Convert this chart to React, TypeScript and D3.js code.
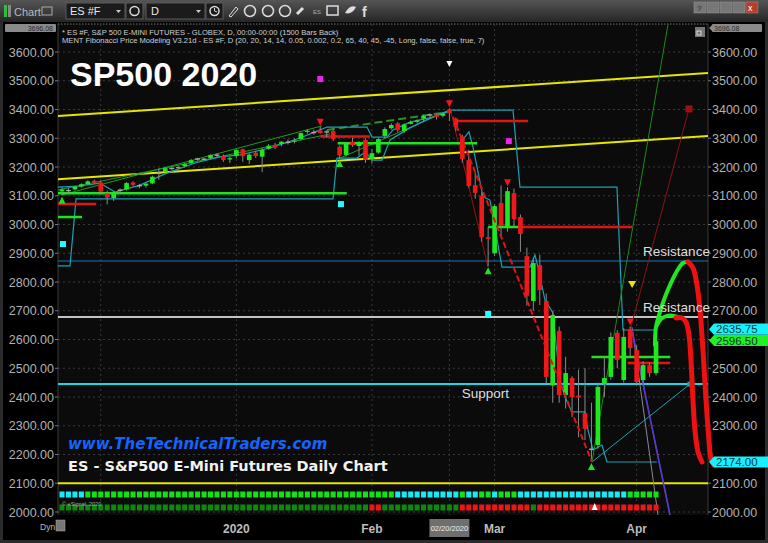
import React from "react";
import * as d3 from "d3";

// ---- data ----
const dates = [
  "2019-11-21","2019-11-22","2019-11-25","2019-11-26","2019-11-27","2019-11-29",
  "2019-12-02","2019-12-03","2019-12-04","2019-12-05","2019-12-06","2019-12-09","2019-12-10",
  "2019-12-11","2019-12-12","2019-12-13","2019-12-16","2019-12-17","2019-12-18","2019-12-19",
  "2019-12-20","2019-12-23","2019-12-24","2019-12-26","2019-12-27","2019-12-30","2019-12-31",
  "2020-01-02","2020-01-03","2020-01-06","2020-01-07","2020-01-08","2020-01-09","2020-01-10",
  "2020-01-13","2020-01-14","2020-01-15","2020-01-16","2020-01-17","2020-01-21","2020-01-22",
  "2020-01-23","2020-01-24","2020-01-27","2020-01-28","2020-01-29","2020-01-30","2020-01-31",
  "2020-02-03","2020-02-04","2020-02-05","2020-02-06","2020-02-07","2020-02-10","2020-02-11",
  "2020-02-12","2020-02-13","2020-02-14","2020-02-18","2020-02-19","2020-02-20","2020-02-21",
  "2020-02-24","2020-02-25","2020-02-26","2020-02-27","2020-02-28",
  "2020-03-02","2020-03-03","2020-03-04","2020-03-05","2020-03-06","2020-03-09","2020-03-10",
  "2020-03-11","2020-03-12","2020-03-13","2020-03-16","2020-03-17","2020-03-18","2020-03-19",
  "2020-03-20","2020-03-23","2020-03-24","2020-03-25","2020-03-26","2020-03-27","2020-03-30",
  "2020-03-31","2020-04-01","2020-04-02","2020-04-03","2020-04-06",
];

// open, high, low, close
const ohlc: number[][] = [
  [3115,3130,3100,3122],[3120,3128,3110,3118],[3122,3135,3118,3132],[3132,3143,3128,3140],
  [3140,3154,3137,3150],[3152,3156,3140,3145],[3146,3152,3108,3114],[3108,3118,3070,3094],
  [3092,3116,3082,3112],[3118,3126,3110,3119],[3122,3148,3118,3144],[3146,3150,3134,3138],
  [3134,3142,3126,3135],[3135,3146,3128,3142],[3143,3170,3140,3166],[3176,3195,3155,3178],
  [3183,3200,3180,3196],[3196,3202,3190,3195],[3196,3204,3192,3200],[3203,3214,3198,3210],
  [3213,3228,3210,3224],[3226,3232,3222,3228],[3228,3231,3224,3227],[3231,3244,3228,3242],
  [3242,3248,3234,3241],[3238,3243,3218,3224],[3226,3236,3214,3231],[3238,3262,3230,3259],
  [3262,3264,3218,3238],[3224,3248,3210,3243],[3250,3256,3232,3238],[3236,3267,3182,3259],
  [3264,3280,3260,3274],[3277,3284,3262,3268],[3280,3290,3272,3288],[3289,3296,3278,3286],
  [3288,3300,3282,3292],[3297,3320,3292,3318],[3322,3332,3316,3326],[3323,3330,3312,3320],
  [3327,3340,3316,3318],[3320,3328,3302,3322],[3325,3330,3290,3297],[3270,3275,3228,3240],
  [3242,3287,3236,3283],[3288,3302,3270,3276],[3273,3290,3240,3287],[3294,3300,3214,3225],
  [3228,3262,3212,3248],[3250,3300,3246,3297],[3308,3338,3300,3332],[3335,3352,3330,3346],
  [3352,3356,3322,3328],[3325,3352,3318,3348],[3350,3362,3348,3356],[3357,3366,3352,3362],
  [3368,3382,3358,3378],[3378,3386,3372,3381],[3382,3386,3365,3374],[3378,3390,3372,3386],
  [3400,3404,3360,3387],[3368,3372,3325,3340],[3306,3312,3215,3228],[3224,3260,3128,3134],
  [3137,3180,3090,3110],[3100,3112,2940,2956],[2956,2990,2855,2950],[2900,3070,2890,3064],
  [3075,3136,2960,2995],[2990,3130,2975,3116],[3109,3125,2990,3019],[3026,3035,2905,2967],
  [2890,2920,2718,2752],[2734,2885,2700,2866],[2859,2895,2720,2772],[2734,2760,2448,2470],
  [2440,2700,2380,2685],[2630,2645,2380,2407],[2407,2540,2360,2483],[2466,2472,2330,2400],
  [2405,2495,2260,2398],[2344,2500,2250,2289],[2216,2380,2174,2218],[2233,2450,2220,2435],
  [2445,2540,2400,2466],[2470,2625,2460,2609],[2623,2632,2500,2529],[2459,2640,2450,2609],
  [2636,2645,2540,2570],[2563,2580,2440,2452],[2459,2525,2440,2511],[2511,2520,2470,2483],
  [2483,2605,2475,2594],
];

const priceTicks = [2000,2100,2200,2300,2400,2500,2600,2700,2800,2900,3000,3100,3200,3300,3400,3500,3600];
const topPrice = 3696.08;
const monthLabels: [string, string][] = [["2020-01","2020"],["2020-02","Feb"],["2020-03","Mar"],["2020-04","Apr"]];
const cursorDate = "2020-02-20";

const pivotHighs = [40, 60, 69, 88];
const pivotLows = [0, 43, 66, 82];

const yellowLevel = 2100;
const blueLevel = 2873;
const resistanceLevel = 2678;
const supportLevel = 2445;

// [fromBar, toBar, price]
const redSegments = [[-0.62,5.3,3071],[40,47.7,3306],[60.9,72.2,3360],[71,88.3,2991],[87.6,94.2,2518]];
const greenSegments = [[-0.62,3.1,3026],[-0.62,44.1,3109],[42.7,64.3,3283],[66,71,2991],[82,94.2,2539]];

// channel lines [bar, price]
const channelUpper: [number, number][] = [[-0.62,3377],[100.05,3527]];
const channelLower: [number, number][] = [[-0.62,3157],[100.05,3308]];

const stepLine: [number, number][] = [
  [-0.62,2856],[1.24,2856],[2.17,3089],[41.97,3089],[42.59,3231],[45.69,3231],[46.93,3252],
  [48.16,3224],[49.56,3224],[50.8,3294],[53.9,3336],[56.99,3370],[60.09,3398],[69.85,3398],
  [70.93,3130],[85.95,3130],[86.88,2633],[92,2633],
];
const trailRally: [number, number][] = [
  [-0.62,3130],[2.79,3134],[5.88,3144],[8.21,3113],[12.08,3137],[15.95,3176],[20.6,3214],
  [24.47,3235],[27.57,3242],[32.21,3266],[36.86,3301],[39.96,3329],[41.04,3339],[47.24,3339],
  [48.01,3304],[50.33,3304],[51.26,3329],[53.9,3356],[57.46,3374],[60.09,3395],
];
const trailDecline: [number, number][] = [
  [61.64,3283],[63.03,3322],[63.65,3270],[65.2,3096],[66.28,3085],[68.14,2852],[72.48,2852],
  [73.25,2894],[73.72,2852],[74.8,2737],[76.04,2692],[76.5,2588],[77.13,2459],[77.9,2400],
  [78.98,2348],[80.99,2348],[81.46,2285],[82.24,2216],[83.63,2233],[84.4,2174],[92.15,2174],
];
const greenTrend1: [number, number][] = [[0,3103],[40.27,3343]];
const greenTrend2: [number, number][] = [[-0.62,3120],[41.5,3315]];
const greenTrend3: [number, number][] = [[43.05,3231],[60.09,3398]];
const greenDashed: [number, number][] = [[41.04,3329],[59.62,3391]];
const redDashed: [number, number][] = [[60.55,3374],[82.08,2174]];
const redThin: [number, number][] = [[60.09,3405],[65.98,2852]];
const cyanFan: [number, number][] = [[82.08,2174],[97.26,2445]];
const greenFan: [number, number][] = [[82.08,2174],[93.86,3696]];
const redFan: [number, number][] = [[88.0,2633],[97.1,3402]];
const grayFan: [number, number][] = [[88.28,2643],[92.3,1990]];
const purpleFan: [number, number][] = [[88.28,2633],[94.16,1990]];

const forecastGreenA: [number, number][] = [[91.84,2581],[91.99,2643],[92.61,2696],[93.39,2748],[94.32,2797],[95.24,2838],[96.17,2866],[96.95,2870]];
const forecastGreenB: [number, number][] = [[92.15,2650],[92.77,2671],[93.7,2682],[94.78,2682],[95.71,2675]];
const forecastRedA: [number, number][] = [[96.95,2870],[97.72,2849],[98.34,2790],[98.81,2703],[99.27,2564],[99.74,2390],[100.2,2250],[100.5,2188],[100.98,2163]];
const forecastRedB: [number, number][] = [[95.09,2675],[96.02,2675],[96.64,2661],[97.1,2616],[97.41,2529],[97.72,2390],[98.03,2285],[98.5,2209],[99.12,2174]];

const magentaMarks: [number, number][] = [[40,3506],[69.2,3290]];
const cyanMarks: [number, number][] = [[0.15,2932],[43.2,3071],[66,2689]];
const whiteMark: [number, number] = [60, 3558];
const yellowMark: [number, number] = [88.3, 2793];

const cyanTags = [2635.75, 2174.0];
const greenTags = [2596.5];

// strip states, run-length
const stripTop: [string, number][] = [["c",4],["g",48],["c",10],["g",1],["c",2],["g",2],["c",1],["g",3],["c",17],["g",5]];
const stripBottom: [string, number][] = [["g",48],["r",2],["g",12],["r",11],["g",1],["r",19]];
const stripMarkBar = 82.5;

const FONT = "'Liberation Sans', Arial, sans-serif";

function expand(runs: [string, number][]) {
  const out: string[] = [];
  runs.forEach(([k, n]) => { for (let i = 0; i < n; i++) out.push(k); });
  return out;
}

export default function App() {
  const W = 768, H = 543;
  const L = 58, R = 708, T = 24, B = 515;
  const x = d3.scaleLinear().domain([-0.62, 100.05]).range([L, R]);
  const y = d3.scaleLinear().domain([2000, 3600]).range([512, 52]);
  const step = x(1) - x(0);
  const line = d3.line<[number, number]>().x(d => x(d[0])).y(d => y(d[1]));
  const smooth = d3.line<[number, number]>().x(d => x(d[0])).y(d => y(d[1])).curve(d3.curveCatmullRom.alpha(0.5));

  const monthStarts = dates
    .map((d, i) => (i > 0 && d.slice(0, 7) !== dates[i - 1].slice(0, 7) ? i : -1))
    .filter(i => i >= 0);
  const cursorIdx = dates.indexOf(cursorDate);
  const topRow = expand(stripTop);
  const botRow = expand(stripBottom);
  const allTags = [...cyanTags, ...greenTags];
  // right-axis labels hidden behind the last-value tags
  const hiddenRight = (p: number) => allTags.some(v => Math.abs(y(v) - y(p)) < 13);

  const tag = (v: number, fill: string, key: string) => {
    const ty = y(v);
    return (
      <g key={key}>
        <path d={`M${R + 1},${ty} L${R + 6},${ty - 5.6} L${W},${ty - 5.6} L${W},${ty + 5.6} L${R + 6},${ty + 5.6} Z`} fill={fill} />
        <text x={R + 8} y={ty + 4} fontSize={11.5} fill="#083a3a" fontFamily={FONT}>{v.toFixed(2)}</text>
      </g>
    );
  };

  return (
    <svg width={W} height={H} style={{ position: "absolute", left: 0, top: 0, background: "#2b2b2b" }} fontFamily={FONT}>
      <defs>
        <linearGradient id="tb" x1="0" y1="0" x2="0" y2="1">
          <stop offset="0%" stopColor="#555" />
          <stop offset="100%" stopColor="#262626" />
        </linearGradient>
        <clipPath id="plot"><rect x={L} y={T} width={R - L} height={B - T} /></clipPath>
        <clipPath id="plotwide"><rect x={L} y={T} width={W - L} height={B - T} /></clipPath>
      </defs>

      {/* toolbar */}
      <rect x={0} y={0} width={W} height={22} fill="url(#tb)" />
      <rect x={4} y={5} width={3} height={12} fill="#2fbf3a" />
      <rect x={8} y={5} width={3} height={12} fill="#888" />
      <text x={14} y={15.5} fontSize={11} fill="#b8b8b8">Chart</text>
      <rect x={42} y={7} width={10} height={8} fill="none" stroke="#aaa" strokeWidth={1} />
      <rect x={66} y={3} width={59} height={16} fill="#1b1b1b" stroke="#5a5a5a" />
      <text x={70} y={15} fontSize={11} fill="#e8e8e8">ES #F</text>
      <path d="M116,10 L121,10 L118.5,13 Z" fill="#ccc" />
      <rect x={126} y={3} width={17} height={16} fill="#1b1b1b" stroke="#5a5a5a" />
      <circle cx={134.5} cy={11} r={4.5} fill="none" stroke="#ddd" strokeWidth={1.5} />
      <rect x={146} y={3} width={59} height={16} fill="#1b1b1b" stroke="#5a5a5a" />
      <text x={151} y={15} fontSize={11} fill="#e8e8e8">D</text>
      <path d="M196,10 L201,10 L198.5,13 Z" fill="#ccc" />
      <rect x={206} y={3} width={17} height={16} fill="#1b1b1b" stroke="#5a5a5a" />
      <circle cx={214.5} cy={11} r={4.5} fill="none" stroke="#ddd" strokeWidth={1.5} />
      <path d="M214.5,8 L214.5,11 L217,12" fill="none" stroke="#ddd" strokeWidth={1} />
      <path d="M229,16 L236,7 L238,9 L231,17 Z" fill="none" stroke="#ddd" strokeWidth={1} />
      {[250, 268, 285].map(cx => <circle key={cx} cx={cx} cy={11} r={5.5} fill="none" stroke="#ddd" strokeWidth={1.5} />)}
      <path d="M297,14 L303,8" stroke="#ddd" strokeWidth={3} />
      <text x={313} y={14} fontSize={6} fill="#aaa">ES</text>
      <rect x={327} y={6} width={11} height={9} fill="none" stroke="#ddd" strokeWidth={1.5} />
      <path d="M345,13 Q350,4 356,7 Q352,15 345,13 Z" fill="#ddd" />
      <text x={362} y={17} fontSize={14} fontWeight="bold" fill="#ddd">f</text>
      {[0, 1, 2, 3, 4].map(i => (
        <rect key={i} x={694 + i * 13} y={2} width={12} height={11} fill={i === 4 ? "#b83b2e" : "#777"} stroke="#999" strokeWidth={0.5} />
      ))}
      <text x={697} y={11} fontSize={8} fill="#222">?</text>
      <text x={748} y={11} fontSize={9} fill="#fff">x</text>

      {/* panel backgrounds */}
      <rect x={3} y={22} width={W - 6} height={518} fill="#000" />
      <rect x={L} y={T} width={R - L} height={B - T} fill="#0b0b0b" />
      <line x1={L} x2={L} y1={T} y2={B} stroke="#3c3c3c" />
      <line x1={R} x2={R} y1={T} y2={B} stroke="#3c3c3c" />
      <line x1={L} x2={R} y1={T} y2={T} stroke="#777" strokeDasharray="1.5,1.5" />

      {/* grid */}
      {priceTicks.map(p => (
        <line key={p} x1={L} x2={R} y1={y(p)} y2={y(p)} stroke="#3a3a3a" strokeDasharray="2,3" />
      ))}
      {[...monthStarts, cursorIdx].map(i => (
        <line key={"v" + i} x1={x(i)} x2={x(i)} y1={T} y2={B} stroke="#3a3a3a" strokeDasharray="2,3" />
      ))}

      {/* axes labels */}
      <rect x={5} y={24} width={51} height={8} rx={1} fill="#8a8a8a" />
      <text x={53} y={31} fontSize={7} textAnchor="end" fill="#2a2a2a">{topPrice.toFixed(2)}</text>
      <rect x={R + 4} y={24} width={50} height={8} rx={1} fill="#8a8a8a" />
      <path d={`M${R + 1},28 L${R + 4},25 L${R + 4},31 Z`} fill="#8a8a8a" />
      <text x={R + 6} y={31} fontSize={7} fill="#2a2a2a">{topPrice.toFixed(2)}</text>
      {priceTicks.map(p => (
        <g key={"t" + p}>
          <line x1={L - 3} x2={L} y1={y(p)} y2={y(p)} stroke="#777" />
          <line x1={R} x2={R + 3} y1={y(p)} y2={y(p)} stroke="#777" />
          <text x={L - 4} y={y(p) + 4.5} fontSize={12.5} textAnchor="end" fill="#b2b2b2">{p.toFixed(2)}</text>
          {!hiddenRight(p) && <text x={R + 4} y={y(p) + 4.5} fontSize={12.5} fill="#b2b2b2">{p.toFixed(2)}</text>}
        </g>
      ))}
      {monthLabels.map(([m, lab]) => {
        const i = dates.findIndex(d => d.startsWith(m));
        return <text key={m} x={x(i)} y={533} fontSize={12} fontWeight="bold" textAnchor="middle" fill="#bdbdbd">{lab}</text>;
      })}
      <rect x={x(cursorIdx) - 20} y={519} width={40} height={18} fill="#6f6f6f" />
      <text x={x(cursorIdx)} y={531} fontSize={7.5} textAnchor="middle" fill="#f0f0f0">02/20/2020</text>
      <text x={40} y={530} fontSize={8.5} fill="#bbb">Dyn</text>
      <rect x={56} y={520} width={9} height={11} fill="#777" stroke="#aaa" strokeWidth={0.5} />

      {/* legend */}
      <text x={62} y={34.5} fontSize={7.6} fill="#d0d0d0">* ES #F, S&amp;P 500 E-MINI FUTURES - GLOBEX, D, 00:00-00:00 (1500 Bars Back)</text>
      <text x={62} y={43} fontSize={7.6} fill="#d0d0d0">MENT Fibonacci Price Modeling V3.21d - ES #F, D (20, 20, 14, 14, 0.05, 0.002, 0.2, 65, 40, 45, -45, Long, false, false, true, 7)</text>
      <rect x={695} y={27} width={10} height={10} fill="#777" />
      <rect x={697} y={31} width={4} height={4} fill="none" stroke="#eee" strokeWidth={0.8} />

      <g clipPath="url(#plot)">
        {/* level lines */}
        <line x1={L} x2={R} y1={y(blueLevel)} y2={y(blueLevel)} stroke="#1d74c0" strokeWidth={1.2} />
        <line x1={L} x2={R} y1={y(resistanceLevel)} y2={y(resistanceLevel)} stroke="#c4c4c4" strokeWidth={2} />
        <line x1={L} x2={R} y1={y(supportLevel)} y2={y(supportLevel)} stroke="#15d8e8" strokeWidth={2} />
        <line x1={L} x2={R} y1={y(yellowLevel)} y2={y(yellowLevel)} stroke="#e6e600" strokeWidth={2} />
        <path d={line(channelUpper) || ""} stroke="#e6e600" strokeWidth={2} fill="none" />
        <path d={line(channelLower) || ""} stroke="#e6e600" strokeWidth={2} fill="none" />

        {/* thin studies */}
        {[greenTrend1, greenTrend2, greenTrend3].map((g, i) => (
          <path key={"gt" + i} d={line(g) || ""} stroke="#1f9a1f" strokeWidth={1} fill="none" />
        ))}
        <path d={line(greenDashed) || ""} stroke="#2b8f2b" strokeWidth={2} strokeDasharray="8,4" fill="none" />
        <path d={line(stepLine) || ""} stroke="#1aa2b4" strokeWidth={1.2} fill="none" />
        <path d={line(trailRally) || ""} stroke="#1aa2b4" strokeWidth={1.2} fill="none" />
        <path d={line(trailDecline) || ""} stroke="#1aa2b4" strokeWidth={1.2} fill="none" />
        <path d={line(redThin) || ""} stroke="#9a1010" strokeWidth={1} fill="none" />
        <path d={line(greenFan) || ""} stroke="#1a8a1a" strokeWidth={1} fill="none" />
        <path d={line(redFan) || ""} stroke="#8c1414" strokeWidth={1} fill="none" />
        <path d={line(grayFan) || ""} stroke="#8a8a8a" strokeWidth={1} fill="none" />
        <path d={line(purpleFan) || ""} stroke="#8040c0" strokeWidth={1.6} fill="none" />
        <path d={line(purpleFan) || ""} stroke="#2a3ae0" strokeWidth={0.7} fill="none" />
        <path d={line(cyanFan) || ""} stroke="#1aa2b4" strokeWidth={1} fill="none" />
        <rect x={x(cyanFan[1][0]) - 2.5} y={y(cyanFan[1][1]) - 2.5} width={5} height={5} fill="#1aa2b4" />
        <rect x={x(redFan[1][0]) - 3.5} y={y(redFan[1][1]) - 3.5} width={7} height={7} fill="#a01010" />

        {/* segments */}
        {greenSegments.map(([a, b, p], i) => (
          <line key={"gs" + i} x1={x(a)} x2={x(b)} y1={y(p)} y2={y(p)} stroke="#22e022" strokeWidth={2.5} />
        ))}
        {redSegments.map(([a, b, p], i) => (
          <line key={"rs" + i} x1={x(a)} x2={x(b)} y1={y(p)} y2={y(p)} stroke="#e01414" strokeWidth={2.5} />
        ))}

        {/* candles */}
        {ohlc.map(([o, h, l, c], i) => {
          const cx = x(i);
          const doji = Math.abs(c - o) < 4;
          const col = doji ? "#a8a8a8" : c > o ? "#1ee81e" : "#f01818";
          const top = y(Math.max(o, c));
          const bot = y(Math.min(o, c));
          return (
            <g key={"c" + i}>
              <line x1={cx} x2={cx} y1={y(h)} y2={y(l)} stroke="#8a8a8a" strokeWidth={1} />
              {doji ? (
                <line x1={cx - 2.4} x2={cx + 2.4} y1={y(c)} y2={y(c)} stroke={col} strokeWidth={1.4} />
              ) : (
                <rect x={cx - step * 0.36} y={top} width={step * 0.72} height={Math.max(1.2, bot - top)} fill={col} />
              )}
            </g>
          );
        })}

        <path d={line(redDashed) || ""} stroke="#e01414" strokeWidth={2} strokeDasharray="6,3" fill="none" />

        {/* pivots */}
        {pivotHighs.map(i => {
          const cx = x(i), ty = y(ohlc[i][1]) - 1;
          return <path key={"ph" + i} d={`M${cx - 3.5},${ty - 7} L${cx + 3.5},${ty - 7} L${cx},${ty} Z`} fill="#f01818" />;
        })}
        {pivotLows.map(i => {
          const cx = x(i), ty = y(ohlc[i][2]) + 1;
          return <path key={"pl" + i} d={`M${cx - 3.5},${ty + 7} L${cx + 3.5},${ty + 7} L${cx},${ty} Z`} fill="#22e022" />;
        })}

        {/* markers */}
        {magentaMarks.map(([b, p], i) => (
          <rect key={"m" + i} x={x(b) - 3} y={y(p) - 3} width={6} height={6} fill="#ee22ee" />
        ))}
        {cyanMarks.map(([b, p], i) => (
          <rect key={"cm" + i} x={x(b) - 3} y={y(p) - 3} width={6} height={6} fill="#22ffff" />
        ))}
        <path d={`M${x(whiteMark[0]) - 3},${y(whiteMark[1]) - 3} L${x(whiteMark[0]) + 3},${y(whiteMark[1]) - 3} L${x(whiteMark[0])},${y(whiteMark[1]) + 3} Z`} fill="#fff" />
        <path d={`M${x(yellowMark[0]) - 4},${y(yellowMark[1]) - 3} L${x(yellowMark[0]) + 4},${y(yellowMark[1]) - 3} L${x(yellowMark[0])},${y(yellowMark[1]) + 4} Z`} fill="#e6e600" />

        {/* strips */}
        {topRow.map((k, i) => (
          <rect key={"st" + i} x={x(i) - step / 2 + 0.7} y={491.5} width={step - 1.4} height={6} fill={k === "c" ? "#19e8f5" : "#14e014"} />
        ))}
        {botRow.map((k, i) => (
          <rect key={"sb" + i} x={x(i) - step / 2 + 0.7} y={504.5} width={step - 1.4} height={6} fill={k === "r" ? "#f01616" : "#0c8a0c"} />
        ))}
        <path d={`M${x(stripMarkBar) - 3},${510} L${x(stripMarkBar) + 3},${510} L${x(stripMarkBar)},${503} Z`} fill="#fff" />
      </g>

      {/* forecast strokes */}
      <g clipPath="url(#plotwide)" fill="none" strokeLinecap="round" strokeLinejoin="round">
        <path d={smooth(forecastGreenA) || ""} stroke="#22e622" strokeWidth={4} />
        <path d={smooth(forecastGreenB) || ""} stroke="#22e622" strokeWidth={4} />
        <path d={smooth(forecastRedA) || ""} stroke="#ee1111" strokeWidth={5} />
        <path d={smooth(forecastRedB) || ""} stroke="#ee1111" strokeWidth={5} />
      </g>

      {/* annotations */}
      <text x={70} y={86} fontSize={34} fontWeight="bold" fill="#ffffff">SP500 2020</text>
      <text x={x(90)} y={y(blueLevel) - 5} fontSize={13.5} fill="#dedede">Resistance</text>
      <text x={x(90)} y={y(resistanceLevel) - 5} fontSize={13.5} fill="#dedede">Resistance</text>
      <text x={x(61.9)} y={y(supportLevel) + 14} fontSize={13.5} fill="#dedede">Support</text>
      <text x={68} y={449} fontSize={15} fontWeight="bold" fontStyle="italic" fill="#1464ff" fontFamily="'DejaVu Sans', Verdana, sans-serif">www.TheTechnicalTraders.com</text>
      <text x={68} y={471} fontSize={14.5} fontWeight="bold" fill="#f2f2f2" fontFamily="'DejaVu Sans', Verdana, sans-serif">ES - S&amp;P500 E-Mini Futures Daily Chart</text>
      <text x={62} y={506} fontSize={5.5} fill="#aaa">© eSignal, 2020</text>

      {cyanTags.map(v => tag(v, "#19f0ff", "ct" + v))}
      {greenTags.map(v => tag(v, "#22f022", "gt" + v))}
    </svg>
  );
}
